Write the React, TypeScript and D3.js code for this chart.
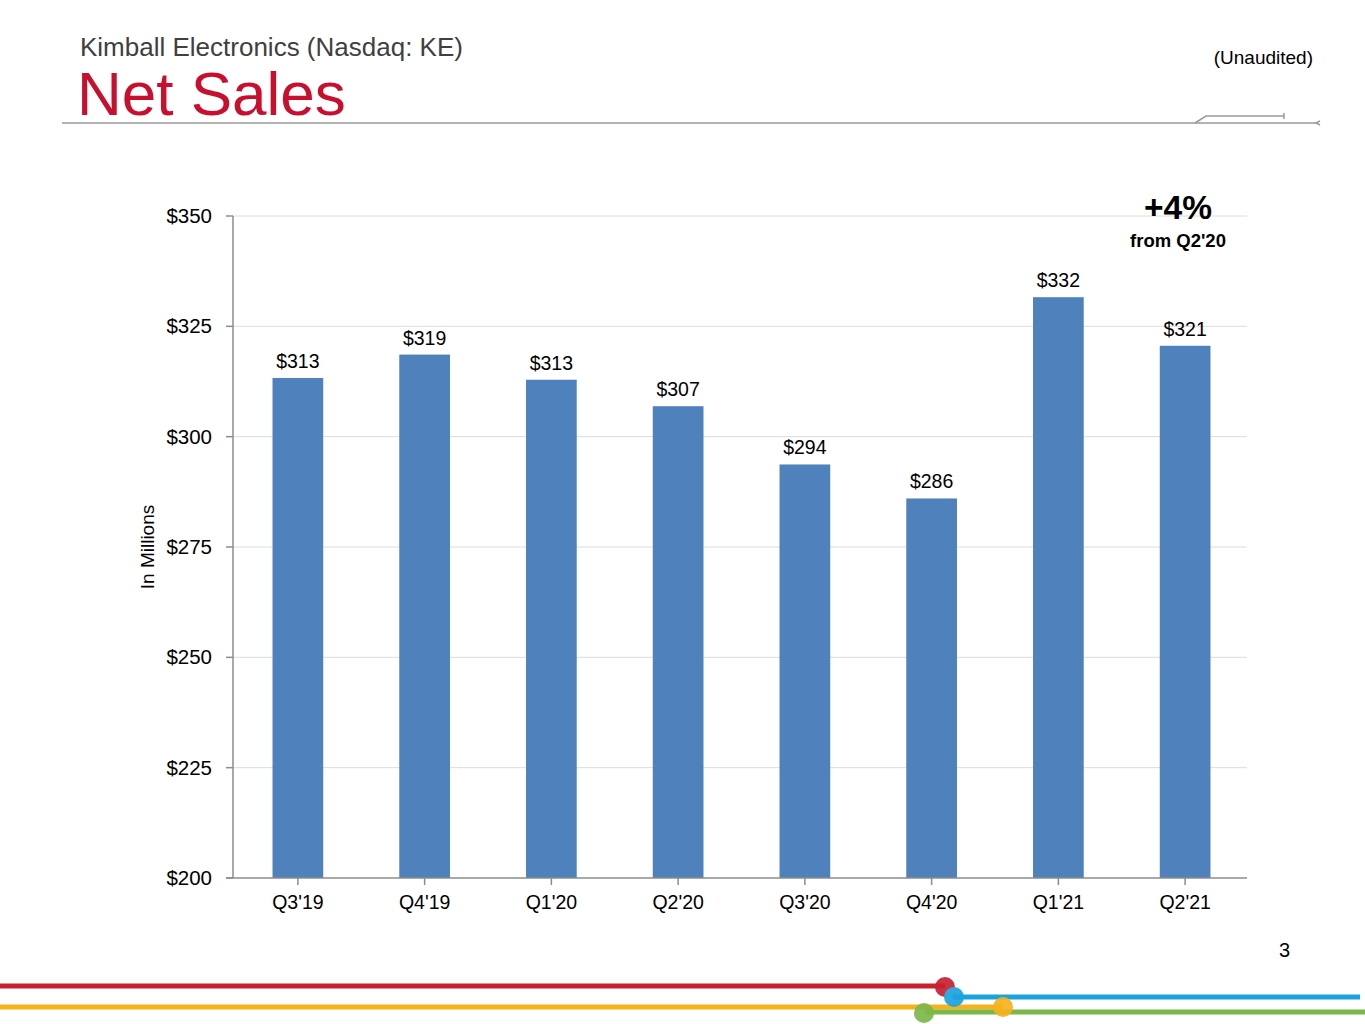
import * as React from 'react';
import * as d3 from 'd3';

const quarters = ["Q3'19", "Q4'19", "Q1'20", "Q2'20", "Q3'20", "Q4'20", "Q1'21", "Q2'21"];
const netSales = [313.3, 318.6, 312.9, 306.9, 293.7, 286.0, 331.6, 320.6];
const salesLabels = ['$313', '$319', '$313', '$307', '$294', '$286', '$332', '$321'];
const yTicks = [200, 225, 250, 275, 300, 325, 350];

const W = 1365, H = 1024;
const plot = { left: 233, right: 1247, top: 216, bottom: 878 };
const font = 'Liberation Sans, Arial, sans-serif';

const App: React.FC = () => {
    const x = d3.scaleBand<string>()
        .domain(quarters)
        .range([plot.left + 1.5, plot.right + 1.5])
        .paddingInner(0.6)
        .paddingOuter(0.3);

    const y = d3.scaleLinear()
        .domain([200, 350])
        .range([plot.bottom, plot.top]);

    const center = (q: string) => (x(q) ?? 0) + x.bandwidth() / 2;

    return (
        <svg width={W} height={H} style={{ position: 'absolute', left: 0, top: 0 }} fontFamily={font}>
            <rect width={W} height={H} fill="#fff" />

            {/* header */}
            <text x={80} y={56} fontSize={26} fill="#404040">Kimball Electronics (Nasdaq: KE)</text>
            <text x={77} y={115} fontSize={62} fill="#c8102e">Net Sales</text>
            <text x={1313} y={64} fontSize={19} fill="#000" textAnchor="end">(Unaudited)</text>
            <g stroke="#9a9a9a" strokeWidth={1.5} fill="none">
                <line x1={62} y1={123} x2={1316} y2={123} />
                <polyline points="1195,123 1206,116 1284,116" />
                <line x1={1284} y1={113} x2={1284} y2={119} />
                <polyline points="1320,121 1316,123 1320,125" />
            </g>

            {/* gridlines */}
            {yTicks.filter(t => t > 200).map(t => (
                <line key={t} x1={plot.left} x2={plot.right} y1={y(t)} y2={y(t)} stroke="#dcdcdc" strokeWidth={1} />
            ))}

            {/* bars */}
            {quarters.map((q, i) => (
                <g key={q}>
                    <rect x={x(q)} y={y(netSales[i])} width={x.bandwidth()} height={plot.bottom - y(netSales[i])} fill="#4f81bd" />
                    <text x={center(q)} y={y(netSales[i]) - 10} fontSize={19.5} textAnchor="middle" fill="#000">{salesLabels[i]}</text>
                </g>
            ))}

            {/* axes */}
            <g stroke="#8c8c8c" strokeWidth={1.5}>
                <line x1={plot.left} x2={plot.left} y1={plot.top} y2={plot.bottom} />
                {yTicks.map(t => (
                    <line key={t} x1={plot.left - 7} x2={plot.left} y1={y(t)} y2={y(t)} />
                ))}
                <line x1={plot.left - 7} x2={plot.right} y1={plot.bottom} y2={plot.bottom} />
                {quarters.map(q => (
                    <line key={q} x1={center(q)} x2={center(q)} y1={plot.bottom} y2={plot.bottom + 7} />
                ))}
            </g>
            {yTicks.map(t => (
                <text key={t} x={212} y={y(t) + 7} fontSize={20.5} textAnchor="end" fill="#000">{`$${t}`}</text>
            ))}
            {quarters.map(q => (
                <text key={q} x={center(q)} y={909} fontSize={19.5} textAnchor="middle" fill="#000">{q}</text>
            ))}
            <text transform={`translate(154,${(plot.top + plot.bottom) / 2}) rotate(-90)`} fontSize={19} textAnchor="middle" fill="#000">In Millions</text>

            {/* callout */}
            <text x={1178} y={219} fontSize={33.5} fontWeight="bold" textAnchor="middle" fill="#000">+4%</text>
            <text x={1178} y={247} fontSize={18.5} fontWeight="bold" textAnchor="middle" fill="#000">from Q2'20</text>

            {/* page number */}
            <text x={1290} y={957} fontSize={20} textAnchor="end" fill="#000">3</text>

            {/* footer lines */}
            <g strokeWidth={5} fill="none">
                <line x1={0} y1={986} x2={945} y2={986} stroke="#c8202f" />
                <line x1={953} y1={997} x2={1360} y2={997} stroke="#1ba3dd" />
                <line x1={0} y1={1007} x2={1003} y2={1007} stroke="#f6b21d" />
                <line x1={925} y1={1012} x2={1365} y2={1012} stroke="#7bb848" />
            </g>
            <g opacity={0.92}>
                <circle cx={945} cy={987} r={10} fill="#c8202f" />
                <circle cx={954} cy={997} r={10} fill="#1ba3dd" />
                <circle cx={1003} cy={1007} r={10} fill="#f6b21d" />
                <circle cx={924} cy={1013} r={10} fill="#7bb848" />
            </g>
        </svg>
    );
};

export default App;
